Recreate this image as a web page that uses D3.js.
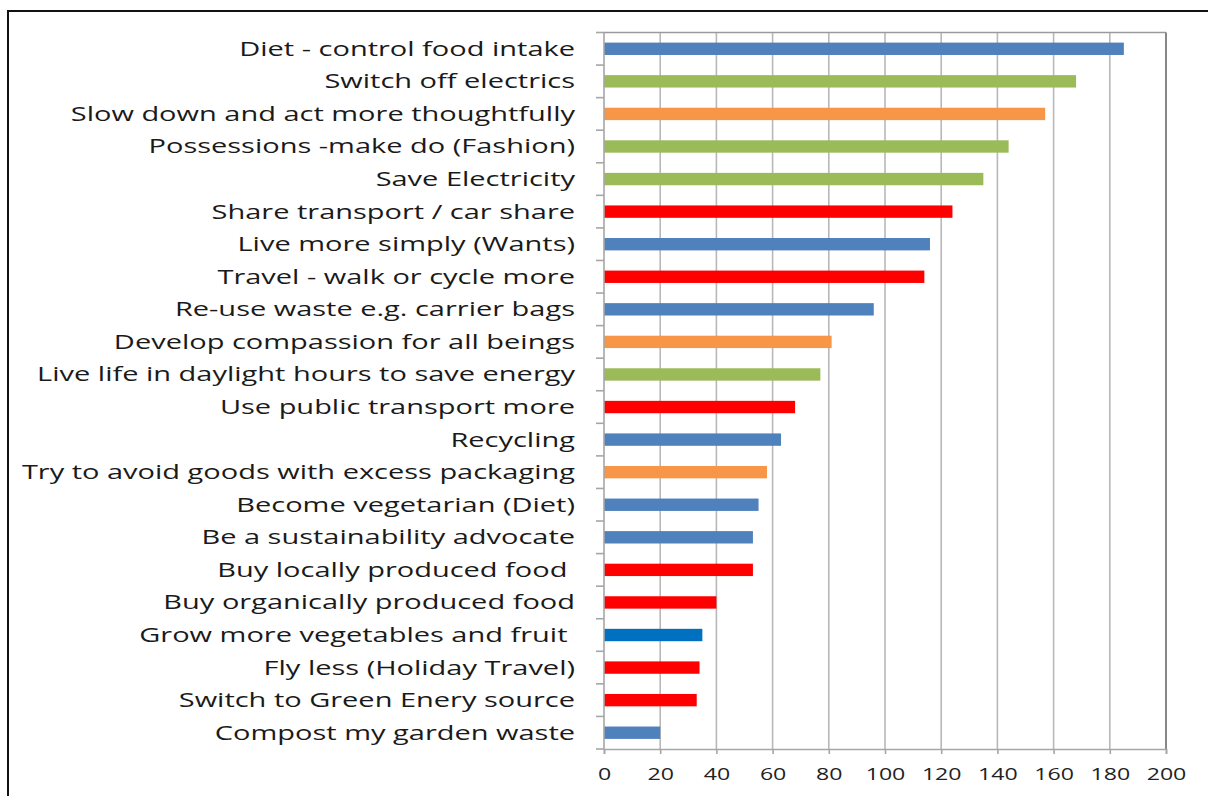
<!DOCTYPE html>
<html>
<head>
<meta charset="utf-8">
<script src="https://cdn.jsdelivr.net/npm/d3@7"></script>
<style>
  html, body { margin: 0; padding: 0; background: #fff; }
  svg { display: block; }
</style>
</head>
<body>
<svg id="chart" width="1208" height="796"></svg>
<script>
const categories = [
  "Diet - control food intake",
  "Switch off electrics",
  "Slow down and act more thoughtfully",
  "Possessions -make do (Fashion)",
  "Save Electricity",
  "Share transport / car share",
  "Live more simply (Wants)",
  "Travel - walk or cycle more",
  "Re-use waste e.g. carrier bags",
  "Develop compassion for all beings",
  "Live life in daylight hours to save energy",
  "Use public transport more",
  "Recycling",
  "Try to avoid goods with excess packaging",
  "Become vegetarian (Diet)",
  "Be a sustainability advocate",
  "Buy locally produced food ",
  "Buy organically produced food",
  "Grow more vegetables and fruit ",
  "Fly less (Holiday Travel)",
  "Switch to Green Enery source",
  "Compost my garden waste"
];
const values = [185, 168, 157, 144, 135, 124, 116, 114, 96, 81, 77, 68, 63, 58, 55, 53, 53, 40, 35, 34, 33, 20];
const groups = ["blue", "green", "orange", "green", "green", "red", "blue", "red", "blue", "orange", "green", "red", "blue", "orange", "blue", "blue", "red", "red", "darkblue", "red", "red", "blue"];
const xTicks = [0, 20, 40, 60, 80, 100, 120, 140, 160, 180, 200];

const colorScale = d3.scaleOrdinal()
  .domain(["blue", "green", "orange", "red", "darkblue"])
  .range(["#4F81BD", "#9BBB59", "#F79646", "#FF0000", "#0070C0"]);

const svg = d3.select("#chart");
const LABEL_STRETCH = 1.45;
const TICK_STRETCH = 1.36;

// outer frame
svg.append("path")
  .attr("d", "M8,796 L8,11 L1208,11")
  .attr("fill", "none").attr("stroke", "#111").attr("stroke-width", 2);

const pLeft = 604, pRight = 1166, pTop = 32.5, pBottom = 749;
const x = d3.scaleLinear().domain([0, 200]).range([pLeft, pRight]);
const y = d3.scaleBand().domain(categories).range([pTop, pBottom]).paddingInner(0.62).paddingOuter(0.31);

// gridlines
svg.append("g").selectAll("line").data(xTicks.slice(1, -1)).join("line")
  .attr("x1", d => x(d)).attr("x2", d => x(d))
  .attr("y1", pTop).attr("y2", pBottom)
  .attr("stroke", "#B8B8B8").attr("stroke-width", 1.6);

// plot border top & right
svg.append("line").attr("x1", pLeft).attr("x2", pRight).attr("y1", pTop).attr("y2", pTop)
  .attr("stroke", "#9A9A9A").attr("stroke-width", 1.6);
svg.append("line").attr("x1", pRight).attr("x2", pRight).attr("y1", pTop).attr("y2", pBottom)
  .attr("stroke", "#7A7A7A").attr("stroke-width", 1.8);

// bars
svg.append("g").selectAll("rect").data(categories).join("rect")
  .attr("x", x(0))
  .attr("y", d => y(d))
  .attr("width", (d, i) => x(values[i]) - x(0))
  .attr("height", y.bandwidth())
  .attr("fill", (d, i) => colorScale(groups[i]));

// x axis
const xAxis = d3.axisBottom(x).tickValues(xTicks).tickSize(5).tickPadding(14).tickFormat(d3.format("d"));
const gx = svg.append("g").attr("transform", `translate(0,${pBottom})`).call(xAxis);
gx.select(".domain").attr("stroke", "#A6A6A6").attr("stroke-width", 1.6);
gx.selectAll(".tick line").attr("stroke", "#A6A6A6").attr("stroke-width", 1.6);
gx.selectAll(".tick text")
  .attr("font-family", "'Open Sans', sans-serif").attr("font-size", 17).attr("fill", "#222")
  .attr("transform", `scale(${TICK_STRETCH},1)`);

// y axis: ticks at band boundaries
const boundaries = categories.map(c => y(c) - y.step() * y.paddingInner() / 2).concat([pBottom]);
svg.append("line").attr("x1", pLeft).attr("x2", pLeft).attr("y1", pTop).attr("y2", pBottom)
  .attr("stroke", "#A6A6A6").attr("stroke-width", 1.6);
svg.append("g").selectAll("line").data(boundaries).join("line")
  .attr("x1", pLeft - 8).attr("x2", pLeft)
  .attr("y1", d => d).attr("y2", d => d)
  .attr("stroke", "#A6A6A6").attr("stroke-width", 1.6);

// labels
svg.append("g").selectAll("text").data(categories).join("text")
  .attr("transform", d => `translate(575,${y(d) + y.bandwidth() / 2}) scale(${LABEL_STRETCH},1)`)
  .attr("text-anchor", "end")
  .attr("dy", "0.35em")
  .attr("font-family", "'Open Sans', sans-serif")
  .attr("font-size", 20)
  .attr("fill", "#1a1a1a")
  .style("white-space", "pre")
  .text(d => d);
</script>
</body>
</html>
